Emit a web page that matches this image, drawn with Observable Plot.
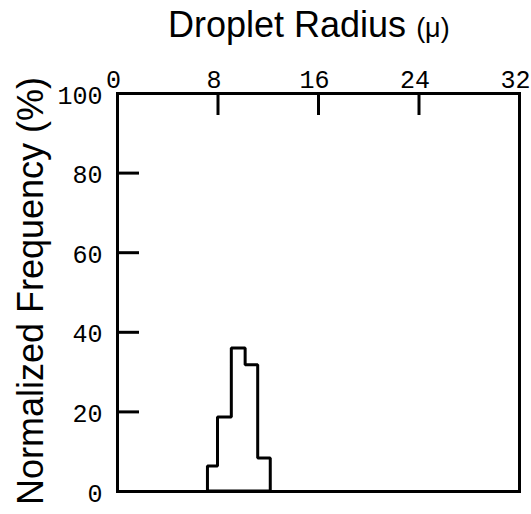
<!DOCTYPE html>
<html><head><meta charset="utf-8">
<script src="https://cdn.jsdelivr.net/npm/d3@7"></script>
<script src="https://cdn.jsdelivr.net/npm/@observablehq/plot@0.6"></script>
<style>body{margin:0;background:#fff}</style>
</head><body><div id="chart"></div>
<script>
const binStart = [7.2, 8.0, 9.1, 10.2, 11.2];
const binEnd = [8.0, 9.1, 10.2, 11.2, 12.2];
const frequency = [6.3, 18.6, 35.9, 31.7, 8.3];
const xTicks = [0, 8, 16, 24, 32];
const yTicks = [0, 20, 40, 60, 80, 100];
const titleMain = "Droplet Radius ";
const titleUnit = "(μ)";
const yLabel = "Normalized Frequency (%)";

const outline = binStart.map((s, i) => ({x: s, y: frequency[i]}));
outline.push({x: binEnd[binEnd.length - 1], y: frequency[frequency.length - 1]});

const W = 531, H = 514, mL = 117, mR = 12, mT = 93, mB = 23;
const innerW = W - mL - mR, innerH = H - mT - mB;
const tickFont = "'Liberation Mono','Courier New',monospace";
const labelFont = "'Liberation Sans',Arial,Helvetica,sans-serif";

const chart = Plot.plot({
  width: W, height: H,
  marginLeft: mL, marginRight: mR, marginTop: mT, marginBottom: mB,
  style: {background: "#fff", color: "#000", fontFamily: tickFont, fontSize: "25px", overflow: "visible"},
  x: {domain: [0, 32]},
  y: {domain: [0, 100]},
  marks: [
    Plot.areaY(outline, {x: "x", y: "y", curve: "step-after", fill: "none", stroke: "#000", strokeWidth: 3, strokeLinejoin: "miter"}),
    Plot.ruleX(xTicks, {stroke: "#000", strokeWidth: 3, insetBottom: innerH - 22}),
    Plot.ruleY(yTicks, {stroke: "#000", strokeWidth: 3, insetRight: innerW - 22}),
    Plot.frame({stroke: "#000", strokeWidth: 3}),
    Plot.axisX(xTicks, {anchor: "top", tickSize: 0, tickPadding: 6, label: null, fill: "#000", dx: -4}),
    Plot.axisY(yTicks, {anchor: "left", tickSize: 0, tickPadding: 15, label: null, fill: "#000", dy: 2})
  ]
});

const svg = d3.select(chart);
const t = svg.append("text")
  .attr("x", 168).attr("y", 37)
  .attr("text-anchor", "start")
  .attr("font-family", labelFont).attr("font-size", 36).attr("fill", "#000");
t.append("tspan").text(titleMain);
t.append("tspan").attr("font-size", 27).text(titleUnit);

svg.append("text")
  .attr("transform", "translate(43,291) rotate(-90)")
  .attr("text-anchor", "middle")
  .attr("font-family", labelFont).attr("font-size", 36).attr("fill", "#000")
  .text(yLabel);

document.getElementById("chart").appendChild(chart);
</script>
</body></html>
